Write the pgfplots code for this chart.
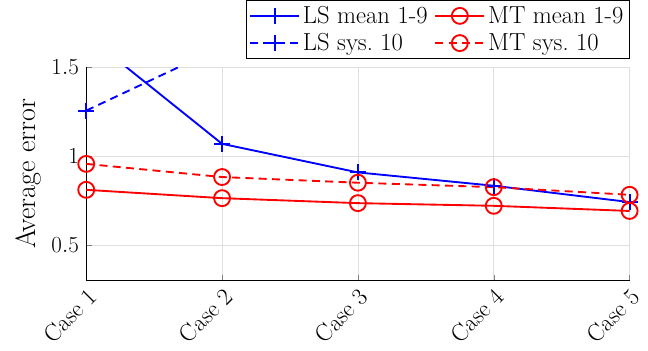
\documentclass[border=0pt]{standalone}
\usepackage{pgfplots}
\pgfplotsset{compat=1.18}
\begin{document}
\begin{tikzpicture}
\begin{axis}[
    scale only axis,
    width=408pt, height=160pt,
    xmin=1, xmax=5, ymin=0.3, ymax=1.5,
    xtick={1,2,3,4,5},
    xticklabels={Case 1,Case 2,Case 3,Case 4,Case 5},
    xticklabel style={rotate=45, anchor=north east, font=\fontsize{18}{20}\selectfont},
    ytick={0.5,1,1.5},
    yticklabel style={font=\fontsize{18}{20}\selectfont, xshift=-2pt},
    ylabel={Average error},
    ylabel style={font=\fontsize{21}{23}\selectfont, inner ysep=12pt},
    ylabel shift=-8pt,
    axis x line*=bottom, axis y line*=left,
    axis line style={-, line width=0.8pt},
    tick align=inside,
    major tick length=4pt,
    grid=major,
    grid style={gray!25},
    legend columns=2,
    legend cell align=left,
    legend style={at={(1,1.04)}, anchor=south east,
        font=\fontsize{18.5}{21}\selectfont,
        draw=black, inner sep=2.5pt, row sep=2pt,
        /tikz/every even column/.append style={column sep=3pt}},
    legend image code/.code={
        \draw[line width=1.4pt, mark repeat=2,mark phase=2,#1]
        plot coordinates {(0pt,0pt) (18.5pt,0pt) (37pt,0pt)};},
]
\addplot[blue, line width=1.4pt, mark=+, mark size=6pt,
    mark options={solid, line width=1.4pt}]
  coordinates {(1,1.683)(2,1.07)(3,0.909)(4,0.834)(5,0.742)};
\addplot[red, line width=1.4pt, mark=o, mark size=6pt,
    mark options={solid, line width=1.4pt}]
  coordinates {(1,0.811)(2,0.764)(3,0.736)(4,0.721)(5,0.692)};
\addplot[blue, line width=1.4pt, dash pattern=on 6pt off 4pt, mark=+, mark size=6pt,
    mark options={solid, line width=1.4pt}]
  coordinates {(1,1.257)(2,1.617)(3,1.75)(4,1.8)(5,1.85)};
\addplot[red, line width=1.4pt, dash pattern=on 6pt off 4pt, mark=o, mark size=6pt,
    mark options={solid, line width=1.4pt}]
  coordinates {(1,0.957)(2,0.883)(3,0.851)(4,0.826)(5,0.783)};
\legend{LS mean 1-9, MT mean 1-9, LS sys.\ 10, MT sys.\ 10}
\end{axis}
\end{tikzpicture}
\end{document}
